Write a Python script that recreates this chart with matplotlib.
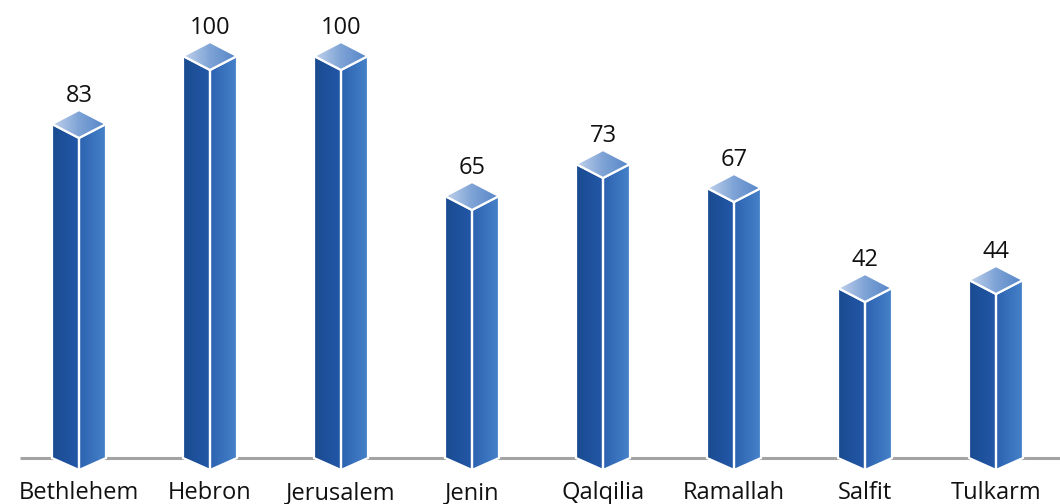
import numpy as np
import matplotlib
matplotlib.use("Agg")
import matplotlib.pyplot as plt
from matplotlib.patches import Polygon
from matplotlib.colors import LinearSegmentedColormap

categories = ["Bethlehem", "Hebron", "Jerusalem", "Jenin", "Qalqilia", "Ramallah", "Salfit", "Tulkarm"]
values = [83, 100, 100, 65, 73, 67, 42, 44]

W, H = 1060, 504
fig = plt.figure(figsize=(W / 100, H / 100), dpi=100)
ax = fig.add_axes([0, 0, 1, 1])
step_px = 131.0
x0_px = 79.0
ppu = 4.0
base_px = 470.0
ax.set_xlim(-x0_px / step_px, (W - x0_px) / step_px)
ax.set_ylim((base_px - H) / ppu, base_px / ppu)
ax.axis("off")

w = 27.0 / step_px
d_bot = 3.0
d_top = 3.5

# baseline
ax.plot([(20 - x0_px) / step_px, (W - x0_px) / step_px], [d_bot, d_bot],
        color="#a3a3a3", lw=2.2, zorder=1, solid_capstyle="butt")

left_cmap = LinearSegmentedColormap.from_list("l", ["#1a4b90", "#2358a8"])
right_cmap = LinearSegmentedColormap.from_list("r", ["#2c62b0", "#4682c9"])
top_cmap = LinearSegmentedColormap.from_list("t", ["#c3d3ec", "#7ea3d6", "#5585c7"])
grad = np.linspace(0, 1, 256).reshape(1, -1)


def grad_poly(pts, cmap, xmin, xmax, ymin, ymax, z):
    poly = Polygon(pts, closed=True, facecolor="none", edgecolor="white", lw=1.6, zorder=z + 0.5)
    ax.add_patch(poly)
    im = ax.imshow(grad, cmap=cmap, extent=[xmin, xmax, ymin, ymax], aspect="auto",
                   origin="lower", zorder=z, interpolation="bilinear")
    clip = Polygon(pts, closed=True, transform=ax.transData)
    im.set_clip_path(clip)


FONT = ["Open Sans", "DejaVu Sans"]
for i, v in enumerate(values):
    c = i
    left = [(c - w, d_bot), (c, 0), (c, v), (c - w, v + d_top)]
    right = [(c, 0), (c + w, d_bot), (c + w, v + d_top), (c, v)]
    top = [(c, v), (c - w, v + d_top), (c, v + 2 * d_top), (c + w, v + d_top)]
    grad_poly(left, left_cmap, c - w, c, 0, v + d_top, 2)
    grad_poly(right, right_cmap, c, c + w, 0, v + d_top, 2)
    grad_poly(top, top_cmap, c - w, c + w, v, v + 2 * d_top, 3)
    ax.text(c, v + 2 * d_top + 2.0, str(v), ha="center", va="baseline",
            fontsize=17, family=FONT, color="#111111", zorder=5)
    ax.text(c, (base_px - 499) / ppu, categories[i], ha="center", va="baseline",
            fontsize=17, family=FONT, color="#111111", zorder=5)

ax.set_xlim(-x0_px / step_px, (W - x0_px) / step_px)
ax.set_ylim((base_px - H) / ppu, base_px / ppu)
fig.savefig("out.png", dpi=100)
